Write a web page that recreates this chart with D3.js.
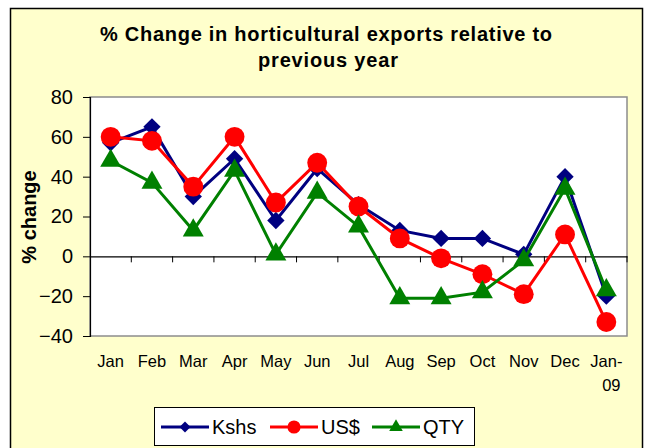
<!DOCTYPE html>
<html><head><meta charset="utf-8">
<script src="https://cdn.jsdelivr.net/npm/d3@7"></script>
<style>body{margin:0;background:#fff}svg{display:block}</style>
</head><body><svg id="c" width="647" height="448"></svg>
<script>
const categories = ["Jan","Feb","Mar","Apr","May","Jun","Jul","Aug","Sep","Oct","Nov","Dec","Jan-09"];
const kshs = [57, 65, 30, 49, 18, 44, 26, 13, 9, 9, 1, 40, -20];
const usd  = [60, 58, 35, 60, 27, 47, 25, 9, -1, -9, -19, 11, -33];
const qty  = [48, 37, 13, 43, 1, 32, 15, -21, -21, -18, -2, 34, -17];
const yTicks = [-40, -20, 0, 20, 40, 60, 80];
const seriesNames = ["Kshs", "US$", "QTY"];

const svg = d3.select("#c");
const font = "'Liberation Sans', Arial, sans-serif";
// frame
svg.append("rect").attr("x",10.5).attr("y",8.5).attr("width",632).attr("height",460)
  .attr("fill","#FFFFCC").attr("stroke","#000").attr("stroke-width",1.5);

const L=90, R=627, T=97, B=336;
const x = d3.scaleBand().domain(categories).range([L,R]);
const y = d3.scaleLinear().domain([-40,80]).range([B,T]);

svg.append("rect").attr("x",L).attr("y",T).attr("width",R-L).attr("height",B-T)
  .attr("fill","#fff").attr("stroke","#8c8c8c").attr("stroke-width",1.5);

// title
const title = svg.append("text").attr("text-anchor","middle").attr("font-family",font)
  .attr("font-weight","bold").attr("font-size",20).attr("fill","#000");
title.append("tspan").attr("x",326).attr("y",41).attr("textLength",452).attr("lengthAdjust","spacing")
  .text("% Change in horticultural exports relative to");
title.append("tspan").attr("x",328).attr("y",67).attr("textLength",140).attr("lengthAdjust","spacing")
  .text("previous year");

// y axis
const yAxis = d3.axisLeft(y).tickValues(yTicks).tickSize(7).tickPadding(10);
const yg = svg.append("g").attr("transform",`translate(${L},0)`).call(yAxis);
yg.select(".domain").attr("stroke","#000").attr("stroke-width",1.2);
yg.selectAll(".tick line").attr("stroke","#000");
yg.selectAll("text").attr("font-family",font).attr("font-size",20).attr("fill","#000");

// zero line with category ticks
const xAxis = d3.axisBottom(x).tickSize(0).tickFormat("");
const xg = svg.append("g").attr("transform",`translate(0,${y(0)})`).call(xAxis);
xg.select(".domain").attr("stroke","#000").attr("stroke-width",1.2);
xg.selectAll(".bound").data(categories.slice(1)).enter().append("line")
  .attr("x1",d=>x(d)).attr("x2",d=>x(d)).attr("y1",0).attr("y2",6)
  .attr("stroke","#000").attr("stroke-width",1);
xg.append("line").attr("x1",R).attr("x2",R).attr("y1",0).attr("y2",6).attr("stroke","#000");

// x labels
const xl = svg.append("g");
categories.forEach(c=>{
  const t = xl.append("text").attr("text-anchor","middle").attr("font-family",font)
    .attr("font-size",16.5).attr("fill","#000");
  const cx = x(c)+x.bandwidth()/2;
  if(c.includes("-")){
    const parts=c.split("-");
    t.append("tspan").attr("x",cx).attr("y",367).text(parts[0]+"-");
    t.append("tspan").attr("x",cx+5).attr("y",391).text(parts[1]);
  } else {
    t.attr("x",cx).attr("y",367).text(c);
  }
});

// y label
svg.append("text").attr("transform","translate(36,217) rotate(-90)").attr("text-anchor","middle")
  .attr("font-family",font).attr("font-weight","bold").attr("font-size",20).text("% change");

const cxf = (d,i)=>x(categories[i])+x.bandwidth()/2;
const series = [
  {name:seriesNames[0], vals:kshs, color:"#000080", shape:"diamond"},
  {name:seriesNames[1], vals:usd, color:"#FF0000", shape:"circle"},
  {name:seriesNames[2], vals:qty, color:"#008000", shape:"triangle"}
];
const bigSize = {diamond:150, circle:310, triangle:190};
const smallSize = {diamond:60, circle:135, triangle:80};
function drawMarker(g, s, px, py, sizes){
  const type = s.shape==="diamond"?d3.symbolSquare:(s.shape==="circle"?d3.symbolCircle:d3.symbolTriangle);
  const p = d3.symbol().type(type).size(sizes[s.shape]);
  g.append("path").attr("d",p())
    .attr("transform",`translate(${px},${py})`+(s.shape==="diamond"?" rotate(45)":""))
    .attr("fill",s.color);
}
const line = d3.line().x(cxf).y(d=>y(d));
series.forEach(s=>{
  const g = svg.append("g");
  g.append("path").datum(s.vals).attr("d",line).attr("fill","none").attr("stroke",s.color).attr("stroke-width",3);
  s.vals.forEach((v,i)=>drawMarker(g,s,cxf(v,i),y(v),bigSize));
});

// legend
svg.append("rect").attr("x",154.5).attr("y",407.5).attr("width",320).attr("height",38)
  .attr("fill","#fff").attr("stroke","#000").attr("stroke-width",1);
const lx = [161, 270, 372];
series.forEach((s,i)=>{
  const g = svg.append("g");
  const y0 = 427;
  g.append("line").attr("x1",lx[i]).attr("x2",lx[i]+48).attr("y1",y0).attr("y2",y0).attr("stroke",s.color).attr("stroke-width",3);
  drawMarker(g,s,lx[i]+24,y0,smallSize);
  g.append("text").attr("x",lx[i]+51).attr("y",y0+7).attr("font-family",font).attr("font-size",20).text(s.name);
});
</script></body></html>
